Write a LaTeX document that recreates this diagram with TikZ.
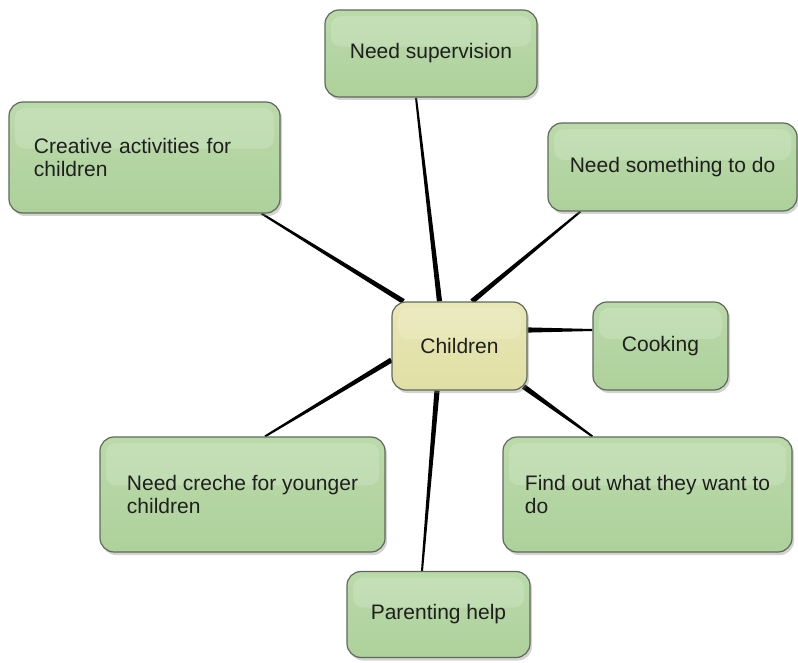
\documentclass[tikz,border=0pt]{standalone}
\usepackage{fontspec}
\setmainfont{Liberation Sans}
\usetikzlibrary{calc,shadows,backgrounds}
\definecolor{leafgreen}{RGB}{174,209,155}
\definecolor{leafgreentop}{RGB}{186,218,170}
\definecolor{kidyellow}{RGB}{224,223,164}
\definecolor{kidyellowtop}{RGB}{232,231,182}
\definecolor{boxline}{RGB}{95,105,90}
\tikzset{
  idea/.style={rectangle, rounded corners=14pt, draw=boxline, line width=1.2pt,
    top color=leafgreentop, bottom color=leafgreen, text=black!88,
    font=\fontsize{21pt}{23pt}\selectfont,
    drop shadow={shadow xshift=2pt, shadow yshift=-3pt, opacity=0.35},
    path picture={\fill[white, opacity=0.16, rounded corners=10pt]
      ($(path picture bounding box.north west)+(6pt,-6pt)$) rectangle
      ($(path picture bounding box.north east)!0.42!(path picture bounding box.south east)+(-6pt,0)$);}},
  hub/.style={idea, top color=kidyellowtop, bottom color=kidyellow},
  note/.style={align=left, inner xsep=25pt}
}
\newcommand{\spoke}[2]{%
  \fill ($(#1)!1pt!90:(#2)$) -- ($(#2)!2.6pt!-90:(#1)$) -- ($(#2)!2.6pt!90:(#1)$) -- ($(#1)!1pt!-90:(#2)$) -- cycle;}
\begin{document}
\begin{tikzpicture}[x=1pt, y=-1pt]
  \useasboundingbox (0,0) rectangle (798,663);
  \node[idea, minimum width=212pt, minimum height=87pt] (sup) at (431,53.5) {Need supervision};
  \node[idea, note, text width=221pt, minimum height=111pt] (crea) at (144.5,157.5) {Creative activities for\\children};
  \node[idea, minimum width=249pt, minimum height=88pt] (busy) at (672.5,167) {Need something to do};
  \node[hub, minimum width=135pt, minimum height=88pt] (kids) at (459.5,346) {Children};
  \node[idea, minimum width=135pt, minimum height=88pt] (cook) at (660.5,346) {Cooking};
  \node[idea, align=left, minimum width=289pt, minimum height=115pt] (find) at (647.5,494.5) {Find out what they want to\\do};
  \node[idea, align=left, minimum width=285pt, minimum height=115pt] (creche) at (242.5,494.5) {Need creche for younger\\children};
  \node[idea, minimum width=183pt, minimum height=86pt] (par) at (438.5,614.5) {Parenting help};

  \coordinate (sup-end) at ([xshift=-15pt]sup.south);
  \coordinate (kids-sup) at ([xshift=-20pt]kids.north);
  \coordinate (crea-end) at ([xshift=-19pt]crea.south east);
  \coordinate (kids-crea) at ([xshift=12pt]kids.north west);
  \coordinate (busy-end) at ([xshift=33pt]busy.south west);
  \coordinate (kids-busy) at ([xshift=12.5pt]kids.north);
  \coordinate (cook-end) at ([yshift=16pt]cook.west);
  \coordinate (kids-cook) at ([yshift=16pt]kids.east);
  \coordinate (find-end) at ([xshift=90pt]find.north west);
  \coordinate (kids-find) at ([xshift=-4pt,yshift=4pt]kids.south east);
  \coordinate (creche-end) at ([xshift=22.5pt]creche.north);
  \coordinate (kids-creche) at ([yshift=-14pt]kids.west);
  \coordinate (par-end) at ([xshift=-16.5pt]par.north);
  \coordinate (kids-par) at ([xshift=-22.5pt]kids.south);

  \begin{scope}[on background layer]
    \spoke{sup-end}{kids-sup}
    \spoke{crea-end}{kids-crea}
    \spoke{busy-end}{kids-busy}
    \spoke{cook-end}{kids-cook}
    \spoke{find-end}{kids-find}
    \spoke{creche-end}{kids-creche}
    \spoke{par-end}{kids-par}
  \end{scope}
\end{tikzpicture}
\end{document}
